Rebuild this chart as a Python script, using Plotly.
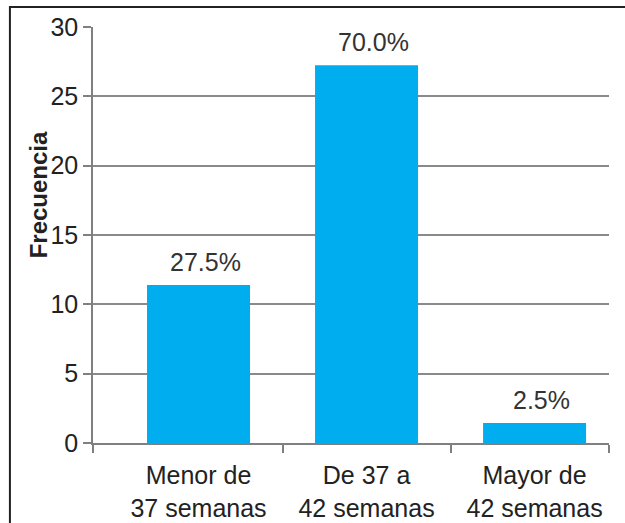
import plotly.graph_objects as go

categories = ["Menor de<br>37 semanas", "De 37 a<br>42 semanas", "Mayor de<br>42 semanas"]
frecuencia = [11.4, 27.25, 1.45]
porcentajes = ["27.5%", "70.0%", "2.5%"]
y_ticks = [0, 5, 10, 15, 20, 25, 30]

xpos = list(range(len(categories)))
FONT = "Liberation Sans, Arial, sans-serif"
TXT = "#222222"

fig = go.Figure()
fig.add_trace(go.Bar(
    x=xpos, y=frecuencia, width=0.613,
    marker=dict(color="#00ADEE", line=dict(width=0)),
    showlegend=False, xaxis="x", yaxis="y", hoverinfo="y",
))
# invisible trace for category-label axis
fig.add_trace(go.Scatter(x=xpos, y=[0]*3, mode="markers", marker=dict(opacity=0),
                         showlegend=False, hoverinfo="skip", xaxis="x2", yaxis="y"))

pct_annotations = [
    dict(x=xv, y=yv, xref="x", yref="y", text=t, showarrow=False,
         xanchor="center", yanchor="bottom", yshift=7, xshift=7,
         font=dict(family=FONT, size=25, color="#333333"))
    for xv, yv, t in zip(xpos, frecuencia, porcentajes)
]

xr = [-0.628, 2.443]
fig.update_layout(
    width=625, height=523,
    margin=dict(l=93, r=16, t=27, b=80),
    paper_bgcolor="white", plot_bgcolor="white",
    font=dict(family=FONT, color=TXT),
    xaxis=dict(range=xr, tickvals=[xr[0], 0.5, 1.5, xr[1]], ticktext=["", "", "", ""],
               ticks="outside", ticklen=8, tickcolor="#808080", tickwidth=1.5,
               showline=True, linecolor="#808080", linewidth=1.5,
               showgrid=False, zeroline=False, automargin=False),
    xaxis2=dict(range=xr, overlaying="x", side="bottom", tickvals=xpos, ticktext=categories,
                ticks="", showline=False, showgrid=False, zeroline=False, automargin=False,
                tickfont=dict(family=FONT, size=25, color=TXT),
                ticklabelstandoff=15),
    yaxis=dict(range=[0, 30], tickvals=y_ticks, ticks="outside", ticklen=8,
               tickcolor="#808080", tickwidth=1.5,
               showline=True, linecolor="#808080", linewidth=1.5,
               showgrid=True, gridcolor="#8a8a8a", gridwidth=1.5, zeroline=False,
               automargin=False,
               tickfont=dict(family=FONT, size=25, color=TXT)),
    annotations=pct_annotations + [
        dict(text="<b>Frecuencia</b>", xref="paper", yref="paper",
             x=-0.106, y=0.596, xanchor="center", yanchor="middle",
             textangle=-90, showarrow=False,
             font=dict(family=FONT, size=24, color=TXT))],
    shapes=[dict(type="rect", xref="paper", yref="paper",
                 x0=-0.161, x1=1.2, y0=-0.3, y1=1.048,
                 line=dict(color="#222222", width=2), layer="above")],
)

fig.write_html("out.html", config={"displayModeBar": False},
               post_script="document.body.style.margin='0';")
